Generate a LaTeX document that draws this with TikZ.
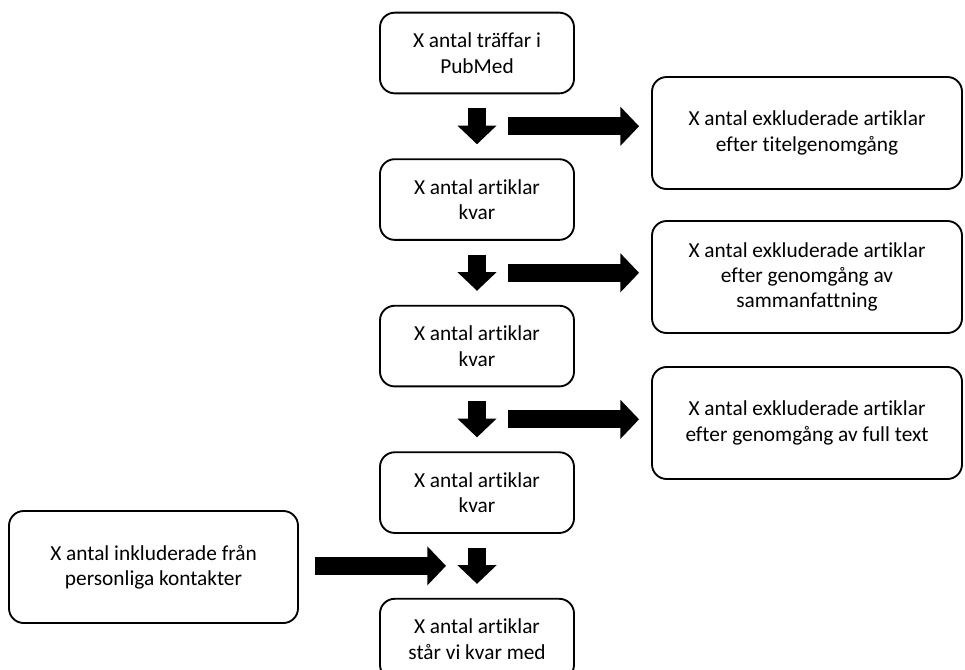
\documentclass[tikz,border=0pt]{standalone}
\usepackage{fontspec}
\setmainfont{Carlito}[Ligatures=NoCommon]
\usetikzlibrary{arrows.meta,positioning,calc}

\begin{document}
\begin{tikzpicture}[x=0.75pt,y=-0.75pt,node distance=48pt,font=\fontsize{16}{19}\selectfont,
    flowbox/.style={draw,line width=1.4pt,rounded corners=11pt,align=center,minimum width=145.5pt,minimum height=60.5pt},
    sidebox/.style={flowbox,minimum width=232.5pt,minimum height=84pt},
    blockarrow/.style={line width=13.5pt,-{Triangle[length=14pt,width=28.5pt]}}]
  \useasboundingbox (0,0) rectangle (965,669);
  % middle column
  \node[flowbox] (hits) at (477,53) {X antal träffar i\\PubMed};
  \node[flowbox,below=of hits] (left1) {X antal artiklar\\kvar};
  \node[flowbox,below=of left1] (left2) {X antal artiklar\\kvar};
  \node[flowbox,below=of left2] (left3) {X antal artiklar\\kvar};
  \node[flowbox,below=of left3] (final) {X antal artiklar\\står vi kvar med};
  % excluded, right side
  \node[sidebox] (excl1) at (807,133) {X antal exkluderade artiklar\\efter titelgenomgång};
  \node[sidebox] (excl2) at (807,277) {X antal exkluderade artiklar\\efter genomgång av\\sammanfattning};
  \node[sidebox] (excl3) at (807,423) {X antal exkluderade artiklar\\efter genomgång av full text};
  % included, left side
  \node[sidebox,minimum width=216.75pt] (personal) at (153.5,567) {X antal inkluderade från\\personliga kontakter};

  \coordinate (g1) at ($(hits.south)!0.5!(left1.north)$);
  \coordinate (g2) at ($(left1.south)!0.5!(left2.north)$);
  \coordinate (g3) at ($(left2.south)!0.5!(left3.north)$);
  \coordinate (g4) at ($(left3.south)!0.5!(final.north)$);
  \coordinate (s1) at ([xshift=23.25pt]g1);
  \coordinate (s2) at ([xshift=23.25pt]g2);
  \coordinate (s3) at ([xshift=23.25pt]g3);
  \coordinate (j4) at ([xshift=-23.25pt]g4);

  \draw[blockarrow,shorten <=10.5pt,shorten >=10.5pt] (hits) -- (left1);
  \draw[blockarrow,shorten <=10.5pt,shorten >=10.5pt] (left1) -- (left2);
  \draw[blockarrow,shorten <=10.5pt,shorten >=10.5pt] (left2) -- (left3);
  \draw[blockarrow,shorten <=10.5pt,shorten >=10.5pt] (left3) -- (final);
  \draw[blockarrow,shorten >=9pt] (s1) -- (s1 -| excl1.west);
  \draw[blockarrow,shorten >=9pt] (s2) -- (s2 -| excl2.west);
  \draw[blockarrow,shorten >=9pt] (s3) -- (s3 -| excl3.west);
  \draw[blockarrow,shorten <=12pt] (personal.east |- j4) -- (j4);
\end{tikzpicture}
\end{document}
